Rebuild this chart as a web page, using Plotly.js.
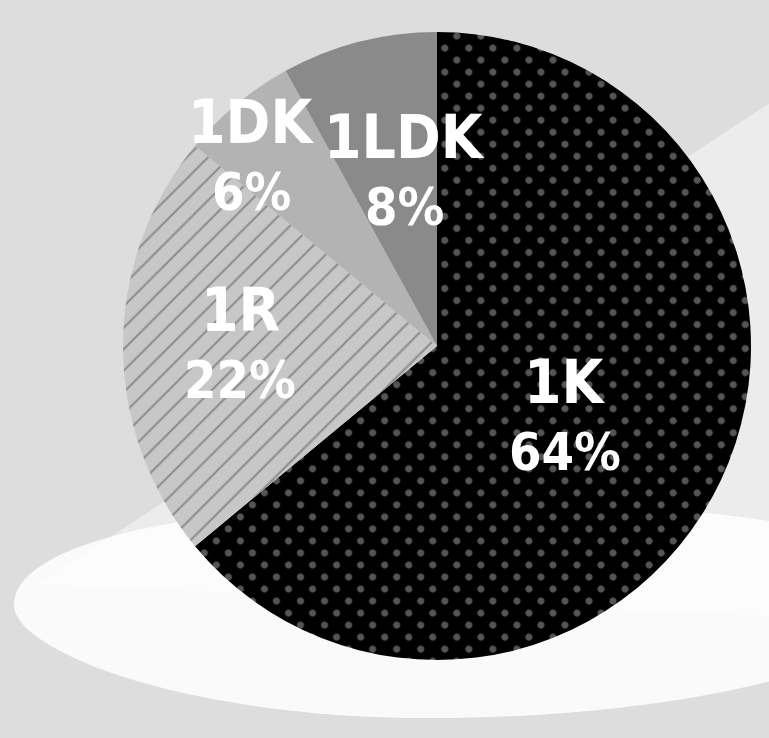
<!DOCTYPE html>
<html><head><meta charset="utf-8">
<script src="https://cdn.plot.ly/plotly-3.0.1.min.js"></script>
<style>html,body{margin:0;padding:0;background:#dddddd;overflow:hidden}#chart{width:769px;height:738px}</style>
</head><body><div id="chart"></div>
<script>
// ---- data ----
const categories = ['1K', '1R', '1DK', '1LDK'];
const shares = [64, 22, 6, 8];

// ---- styles / layout config ----
const W = 769, H = 738;
const sliceColors = ['#000000', '#c7c7c7', '#b3b3b3', '#8a8a8a'];
const patternShapes = ['.', '/', '', ''];
const patternFg = ['#555555', '#8c8c8c', '#b3b3b3', '#8a8a8a'];
const patternSize = [17, 15.2, 10, 10];
const patternSolidity = [0.133, 0.13, 0.3, 0.3];
const pieBox = {left: 123, right: 751, top: 32, bottom: 660};
const labelRadius = [0.466, 0.627, 0.844, 0.564];
const labelAngleOffset = [3.8, 0.3, -4.9, 3.7];
const nameFont = {family: "'DejaVu Sans Condensed', 'DejaVu Sans', sans-serif", size: 60, color: '#ffffff', weight: 700};
const pctFont = {family: "'DejaVu Sans Condensed', 'DejaVu Sans', sans-serif", size: 52, color: '#ffffff', weight: 700};

const px2x = x => x / W, px2y = y => 1 - y / H;

const cx = (pieBox.left + pieBox.right) / 2;
const cy = (pieBox.top + pieBox.bottom) / 2;
const R = (pieBox.right - pieBox.left) / 2;
const total = shares.reduce((a, b) => a + b, 0);

const annotations = [];
let cum = 0;
shares.forEach((v, i) => {
  const mid = (cum + v / 2) / total * 360 + labelAngleOffset[i];
  cum += v;
  const a = mid * Math.PI / 180;
  const lx = cx + labelRadius[i] * R * Math.sin(a);
  const ly = cy - labelRadius[i] * R * Math.cos(a);
  annotations.push({x: px2x(lx), y: px2y(ly), xref: 'paper', yref: 'paper', text: categories[i],
    showarrow: false, xanchor: 'center', yanchor: 'middle', yshift: 35, font: nameFont});
  annotations.push({x: px2x(lx), y: px2y(ly), xref: 'paper', yref: 'paper',
    text: Math.round(v / total * 100) + '%',
    showarrow: false, xanchor: 'center', yanchor: 'middle', yshift: -35, font: pctFont});
});

const P = (x, y) => px2x(x) + ',' + px2y(y);
const ellipsePath =
  'M' + P(14, 605) +
  ' C' + P(14, 535) + ' ' + P(230, 503) + ' ' + P(440, 503) +
  ' C' + P(640, 503) + ' ' + P(860, 510) + ' ' + P(960, 590) +
  ' C' + P(900, 660) + ' ' + P(700, 718) + ' ' + P(430, 718) +
  ' C' + P(180, 718) + ' ' + P(14, 650) + ' ' + P(14, 605) + ' Z';

const shapes = [
  {type: 'path', xref: 'paper', yref: 'paper', layer: 'below',
   path: 'M' + P(800, 83) + ' L' + P(39, 584) + ' L' + P(800, 617) + ' Z',
   fillcolor: '#ececec', line: {width: 0}},
  {type: 'path', xref: 'paper', yref: 'paper', layer: 'below',
   path: ellipsePath,
   fillcolor: 'rgba(255,255,255,0.85)', line: {width: 0}}
];

const trace = {
  type: 'pie',
  labels: categories,
  values: shares,
  sort: false,
  direction: 'clockwise',
  rotation: 0,
  textinfo: 'none',
  hoverinfo: 'skip',
  domain: {x: [px2x(pieBox.left), px2x(pieBox.right)], y: [px2y(pieBox.bottom), px2y(pieBox.top)]},
  marker: {
    colors: sliceColors,
    line: {width: 0},
    pattern: {shape: patternShapes, fgcolor: patternFg, fgopacity: 1, size: patternSize,
              solidity: patternSolidity, fillmode: 'overlay'}
  }
};

const layout = {
  width: W, height: H,
  margin: {l: 0, r: 0, t: 0, b: 0},
  paper_bgcolor: '#dddddd',
  showlegend: false,
  shapes: shapes,
  annotations: annotations
};

Plotly.newPlot('chart', [trace], layout, {staticPlot: true}).then(gd => {
  gd.querySelectorAll('pattern').forEach(p => {
    if (p.querySelector('circle')) p.setAttribute('patternTransform', 'rotate(45)');
  });
});
</script>
</body></html>
